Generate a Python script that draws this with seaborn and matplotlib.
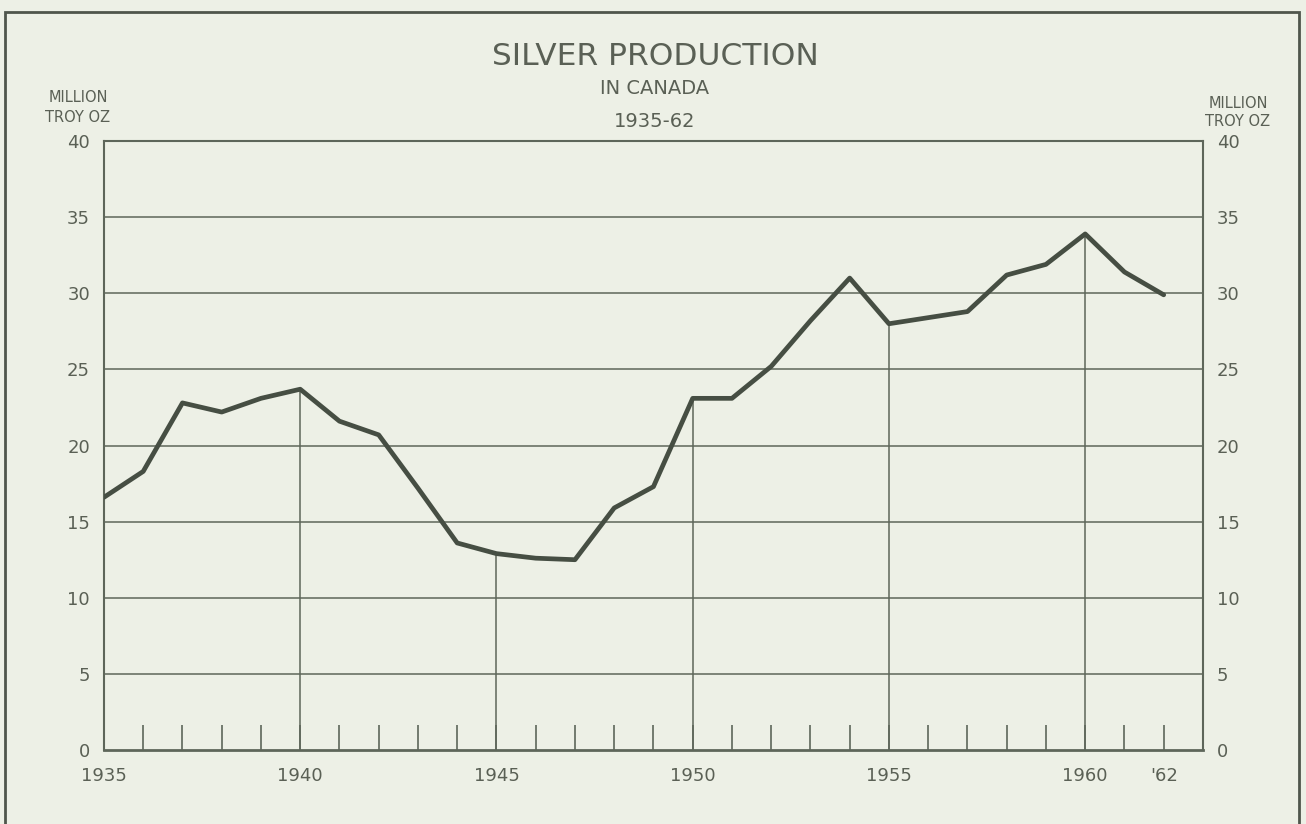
import pandas as pd
import numpy as np
import matplotlib.pyplot as plt
import seaborn as sns
sns.set_style('white')
plt.rcParams['font.family'] = ['DejaVu Sans']

years = list(range(1935, 1963))
silver = [16.6, 18.3, 22.8, 22.2, 23.1, 23.7, 21.6, 20.7, 17.2, 13.6,
          12.9, 12.6, 12.5, 15.9, 17.3, 23.1, 23.1, 25.2, 28.2, 31.0,
          28.0, 28.4, 28.8, 31.2, 31.9, 33.9, 31.4, 29.9]
major_years = [1940, 1945, 1950, 1955, 1960]
x_labels = {1935: "1935", 1940: "1940", 1945: "1945", 1950: "1950",
            1955: "1955", 1960: "1960", 1962: "'62"}
y_ticks = [0, 5, 10, 15, 20, 25, 30, 35, 40]

paper = '#edf0e6'
ink = '#5e665a'
text_col = '#5a6055'
line_col = '#464e43'

df = pd.DataFrame({"year": years, "silver": silver})

fig = plt.figure(figsize=(13.06, 8.24), dpi=100, facecolor=paper)
ax = fig.add_axes([0.0796, 0.0898, 0.8415, 0.739])
ax.set_facecolor(paper)

# horizontal grid, full width
for v in y_ticks[1:-1]:
    ax.axhline(v, color=ink, lw=1.1, zorder=1)

# vertical grid only up to the curve
major_vals = [silver[years.index(y)] for y in major_years]
ax.vlines(major_years, 0, major_vals, color=ink, lw=1.1, zorder=1)

sns.lineplot(data=df, x="year", y="silver", ax=ax, color=line_col, lw=3.4, zorder=3)

ax.set_xlim(1935, 1963)
ax.set_ylim(0, 40)
ax.set_xticks(years)
ax.set_xticklabels([x_labels.get(y, "") for y in years])
ax.set_yticks(y_ticks)
ax.set_yticklabels([str(v) for v in y_ticks])
ax.tick_params(axis='x', bottom=True, direction='in', length=18, width=1.2, color=ink,
               labelsize=13, labelcolor=text_col, pad=12)
ax.tick_params(axis='y', left=False, right=False, length=0, labelsize=13,
               labelcolor=text_col, pad=10, labelright=True)
ax.set_xlabel("")
ax.set_ylabel("")
for s in ax.spines.values():
    s.set_color(ink)
    s.set_linewidth(1.5)
ax.spines['bottom'].set_linewidth(2)

# titles
fig.text(0.5015, 0.932, "SILVER PRODUCTION", ha='center', va='center',
         fontsize=22.5, color=text_col)
fig.text(0.5015, 0.892, "IN CANADA", ha='center', va='center',
         fontsize=14, color=text_col)
fig.text(0.5015, 0.853, "1935-62", ha='center', va='center',
         fontsize=14, color=text_col)

# unit labels
fig.text(78/1306, 1 - 98/824, "MILLION", ha='center', va='center', fontsize=10.5, color=text_col)
fig.text(78/1306, 1 - 117/824, "TROY OZ", ha='center', va='center', fontsize=10.5, color=text_col)
fig.text(1238/1306, 1 - 103/824, "MILLION", ha='center', va='center', fontsize=10.5, color=text_col)
fig.text(1238/1306, 1 - 122/824, "TROY OZ", ha='center', va='center', fontsize=10.5, color=text_col)

# outer frame (bottom edge runs off the page)
frame = plt.Rectangle((5/1306, -0.05), (1299 - 5)/1306, 1.05 - 12/824,
                      transform=fig.transFigure, fill=False, edgecolor='#4f564c',
                      lw=2, clip_on=False)
fig.add_artist(frame)

plt.savefig("out.png", dpi=100, facecolor=paper)
